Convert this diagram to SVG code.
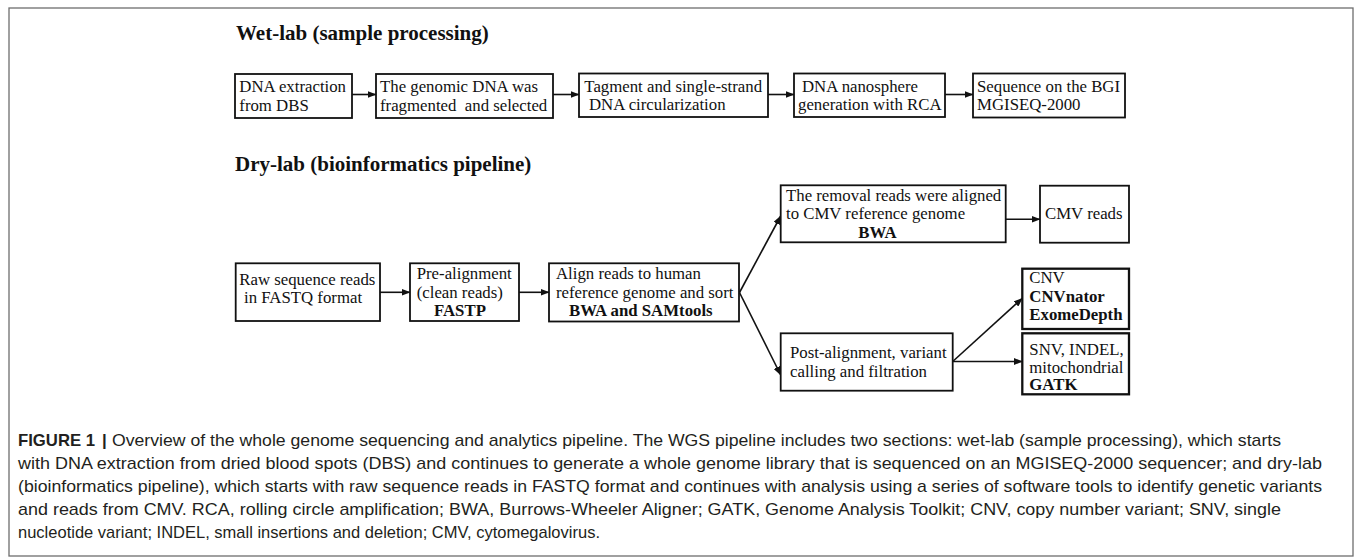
<svg xmlns="http://www.w3.org/2000/svg" width="1355" height="558" viewBox="0 0 1355 558">
<style>
.bg{fill:#fff}
.frame{fill:none;stroke:#6e6e6e;stroke-width:1.3}
.box{fill:#fff;stroke:#111;stroke-width:1.8}
.box2{fill:#fff;stroke:#111;stroke-width:2.3}
.t{font-family:"Liberation Serif","Times New Roman",serif;font-size:16.8px;fill:#111}
.b{font-weight:bold}
.h{font-family:"Liberation Serif","Times New Roman",serif;font-size:21px;font-weight:bold;fill:#111}
.c{font-family:"Liberation Sans",Arial,sans-serif;font-size:17px;fill:#231f20}
.cb{font-weight:bold}
.con{fill:none;stroke:#111;stroke-width:1.6}
</style>
<defs>
<marker id="ah" markerUnits="userSpaceOnUse" markerWidth="9" markerHeight="7" refX="8.5" refY="3.5" orient="auto">
<path d="M0,0 L9,3.5 L0,7 z" fill="#111"/>
</marker>
</defs>
<rect class="bg" x="0" y="0" width="1355" height="558"/>
<rect class="frame" x="9" y="8" width="1344" height="548"/>

<text class="h" x="236" y="39.5">Wet-lab (sample processing)</text>
<text class="h" x="235" y="171">Dry-lab (bioinformatics pipeline)</text>

<g id="connectors">
<line class="con" x1="352" y1="94.5" x2="376" y2="94.5" marker-end="url(#ah)"/>
<line class="con" x1="553" y1="94.5" x2="579" y2="94.5" marker-end="url(#ah)"/>
<line class="con" x1="768" y1="94.5" x2="794" y2="94.5" marker-end="url(#ah)"/>
<line class="con" x1="945" y1="94.5" x2="973" y2="94.5" marker-end="url(#ah)"/>
<line class="con" x1="380" y1="292.3" x2="410" y2="292.3" marker-end="url(#ah)"/>
<line class="con" x1="519" y1="292.3" x2="549" y2="292.3" marker-end="url(#ah)"/>
<line class="con" x1="739.5" y1="292.5" x2="780.7" y2="216" marker-end="url(#ah)"/>
<line class="con" x1="739.5" y1="292.5" x2="780.7" y2="375" marker-end="url(#ah)"/>
<line class="con" x1="1005.7" y1="219.3" x2="1040" y2="219.3" marker-end="url(#ah)"/>
<line class="con" x1="952.7" y1="361.5" x2="1022.3" y2="298.3" marker-end="url(#ah)"/>
<line class="con" x1="952.7" y1="361.5" x2="1022.3" y2="361.5" marker-end="url(#ah)"/>
</g>

<g id="n_dna_extraction">
<rect class="box" x="235" y="74" width="117" height="44"/>
<text class="t" x="239.3" y="92.3">DNA extraction</text>
<text class="t" x="239.3" y="110.7">from DBS</text>
</g>
<g id="n_fragmented">
<rect class="box" x="376" y="74" width="177" height="44"/>
<text class="t" x="380" y="92.3">The genomic DNA was</text>
<text class="t" x="380" y="110.7" style="white-space:pre">fragmented  and selected</text>
</g>
<g id="n_tagment">
<rect class="box" x="579" y="73.5" width="189" height="43.5"/>
<text class="t" x="584.3" y="92">Tagment and single-strand</text>
<text class="t" x="589" y="110.3">DNA circularization</text>
</g>
<g id="n_nanosphere">
<rect class="box" x="794" y="73.5" width="151" height="43.5"/>
<text class="t" x="802" y="92">DNA nanosphere</text>
<text class="t" x="798" y="110.3">generation with RCA</text>
</g>
<g id="n_sequence">
<rect class="box" x="973" y="73.5" width="152" height="44"/>
<text class="t" x="977" y="92">Sequence on the BGI</text>
<text class="t" x="977" y="110.3">MGISEQ-2000</text>
</g>

<g id="n_raw">
<rect class="box" x="235.7" y="263.3" width="144.3" height="57.7"/>
<text class="t" x="239.3" y="284.5">Raw sequence reads</text>
<text class="t" x="244" y="302.7">in FASTQ format</text>
</g>
<g id="n_prealign">
<rect class="box" x="410" y="263.3" width="109" height="57.7"/>
<text class="t" x="416.7" y="279">Pre-alignment</text>
<text class="t" x="416.7" y="298.3">(clean reads)</text>
<text class="t b" x="434" y="316">FASTP</text>
</g>
<g id="n_align">
<rect class="box" x="549" y="263.3" width="190" height="58.2"/>
<text class="t" x="556" y="279">Align reads to human</text>
<text class="t" x="556" y="298.3">reference genome and sort</text>
<text class="t b" x="569" y="316">BWA and SAMtools</text>
</g>
<g id="n_removal">
<rect class="box" x="780.7" y="185.3" width="225" height="57"/>
<text class="t" x="786" y="201">The removal reads were aligned</text>
<text class="t" x="786" y="219.3">to CMV reference genome</text>
<text class="t b" x="858.3" y="238.3">BWA</text>
</g>
<g id="n_cmv">
<rect class="box" x="1040" y="185.7" width="89" height="57"/>
<text class="t" x="1045" y="219.3">CMV reads</text>
</g>
<g id="n_post">
<rect class="box" x="780.7" y="333.3" width="172" height="57.4"/>
<text class="t" x="790" y="358.3">Post-alignment, variant</text>
<text class="t" x="790" y="376.7">calling and filtration</text>
</g>
<g id="n_cnv">
<rect class="box2" x="1022.3" y="268.7" width="106.7" height="60.3"/>
<text class="t" x="1029.3" y="283.3">CNV</text>
<text class="t b" x="1029.3" y="301.7">CNVnator</text>
<text class="t b" x="1029.3" y="320">ExomeDepth</text>
</g>
<g id="n_snv">
<rect class="box2" x="1022.3" y="333.3" width="106.7" height="61"/>
<text class="t" x="1029.3" y="355">SNV, INDEL,</text>
<text class="t" x="1029.3" y="373.3">mitochondrial</text>
<text class="t b" x="1029.3" y="390">GATK</text>
</g>

<g id="caption">
<text class="c cb" x="18" y="446" textLength="77" lengthAdjust="spacingAndGlyphs">FIGURE 1</text>
<text class="c cb" x="102" y="446">|</text>
<text class="c" x="112" y="446" textLength="1169" lengthAdjust="spacingAndGlyphs">Overview of the whole genome sequencing and analytics pipeline. The WGS pipeline includes two sections: wet-lab (sample processing), which starts</text>
<text class="c" x="18" y="469" textLength="1304" lengthAdjust="spacingAndGlyphs">with DNA extraction from dried blood spots (DBS) and continues to generate a whole genome library that is sequenced on an MGISEQ-2000 sequencer; and dry-lab</text>
<text class="c" x="18" y="492" textLength="1304" lengthAdjust="spacingAndGlyphs">(bioinformatics pipeline), which starts with raw sequence reads in FASTQ format and continues with analysis using a series of software tools to identify genetic variants</text>
<text class="c" x="18" y="515" textLength="1263" lengthAdjust="spacingAndGlyphs">and reads from CMV. RCA, rolling circle amplification; BWA, Burrows-Wheeler Aligner; GATK, Genome Analysis Toolkit; CNV, copy number variant; SNV, single</text>
<text class="c" x="18" y="538" textLength="582" lengthAdjust="spacingAndGlyphs">nucleotide variant; INDEL, small insertions and deletion; CMV, cytomegalovirus.</text>
</g>
</svg>
